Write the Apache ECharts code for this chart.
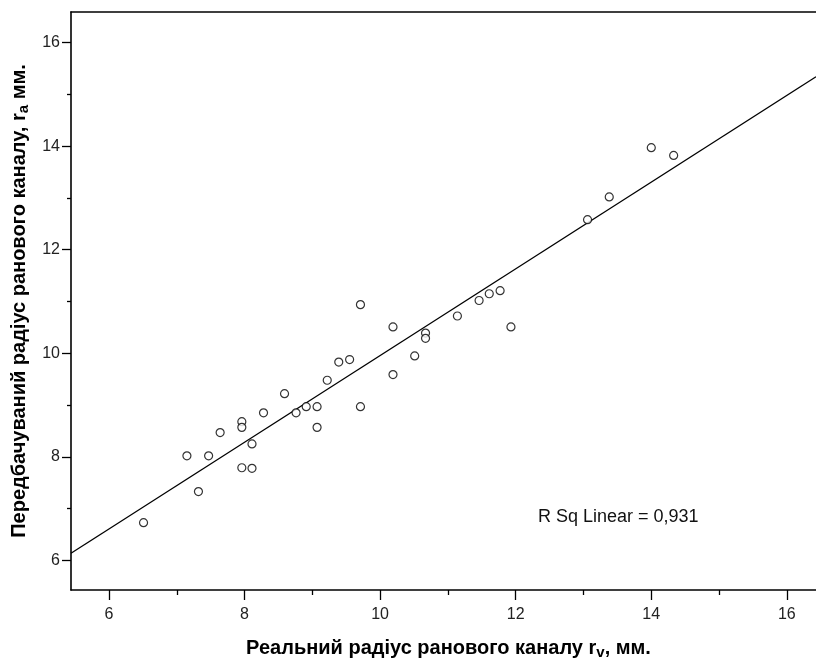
<!DOCTYPE html>
<html>
<head>
<meta charset="utf-8">
<script src="https://cdn.jsdelivr.net/npm/echarts@6/dist/echarts.min.js"></script>
<style>
  html, body { margin: 0; padding: 0; background: #fff; }
  #chart { width: 816px; height: 662px; }
</style>
</head>
<body>
<div id="chart"></div>
<script>
// Real wound channel radius r_v (mm)
const realRadius = [6.51, 7.15, 7.32, 7.47, 7.64, 7.96, 7.96, 7.96, 8.11, 8.11, 8.28, 8.59,
    8.76, 8.91, 9.07, 9.07, 9.22, 9.39, 9.55, 9.71, 9.71, 10.19, 10.19, 10.51, 10.67, 10.67,
    11.14, 11.46, 11.61, 11.77, 11.93, 13.06, 13.38, 14.00, 14.33];
// Predicted radius r_a (mm)
const predictedRadius = [6.73, 8.02, 7.33, 8.02, 8.47, 8.68, 8.57, 7.79, 8.25, 7.78, 8.85, 9.22,
    8.85, 8.97, 8.97, 8.57, 9.48, 9.83, 9.88, 10.94, 8.97, 10.51, 9.59, 9.95, 10.39, 10.29,
    10.72, 11.02, 11.15, 11.21, 10.51, 12.58, 13.02, 13.97, 13.82];

// fit line endpoints
const fitLineX = [5.44, 16.43];
const fitLineY = [6.14, 15.34];

const majorTicks = [6, 8, 10, 12, 14, 16];
const minorTicks = [7, 9, 11, 13, 15];
const rSqText = 'R Sq Linear = 0,931';

const font = '"Liberation Sans", Arial, sans-serif';
const xRange = { min: 5.44, max: 16.43 };
const yRange = { min: 5.43, max: 16.59 };

const chart = echarts.init(document.getElementById('chart'));

const axisLine = { show: true, lineStyle: { color: '#000', width: 1.6 } };
const labelStyle = { color: '#222', fontSize: 16, fontFamily: font };

const titleRich = {
    b: { fontFamily: font, fontSize: 20, fontWeight: 'bold', color: '#000' },
    sub: { fontFamily: font, fontSize: 15, fontWeight: 'bold', color: '#000', padding: [8, 0, 0, 0] }
};

var option = {
    backgroundColor: '#fff',
    animation: false,
    grid: { left: 71, right: 0, top: 12, bottom: 72, containLabel: false, outerBoundsMode: 'none' },
    xAxis: [
        {
            type: 'value', position: 'bottom', ...xRange,
            axisLine: axisLine,
            splitLine: { show: false },
            axisTick: { show: true, length: 10, customValues: majorTicks, lineStyle: { color: '#000', width: 1.3 } },
            axisLabel: { ...labelStyle, margin: 17, customValues: majorTicks },
            name: '{b|Реальний радіус ранового каналу r}{sub|v}{b|, мм.}',
            nameLocation: 'middle',
            nameGap: 47,
            nameTextStyle: { rich: titleRich, padding: [0, 0, 0, 10] }
        },
        {
            type: 'value', position: 'bottom', ...xRange,
            axisLine: { show: false },
            splitLine: { show: false },
            axisTick: { show: true, length: 5, customValues: minorTicks, lineStyle: { color: '#000', width: 1.3 } },
            axisLabel: { show: false }
        },
        {
            // top frame line
            type: 'value', position: 'top', ...xRange,
            axisLine: axisLine,
            splitLine: { show: false },
            axisTick: { show: false },
            axisLabel: { show: false }
        }
    ],
    yAxis: [
        {
            type: 'value', position: 'left', ...yRange,
            axisLine: axisLine,
            splitLine: { show: false },
            axisTick: { show: true, length: 9, customValues: majorTicks, lineStyle: { color: '#000', width: 1.3 } },
            axisLabel: { ...labelStyle, margin: 11, customValues: majorTicks },
            name: '{b|Передбачуваний радіус ранового каналу, r}{sub|a}{b| мм.}',
            nameLocation: 'middle',
            nameRotate: 90,
            nameGap: 31,
            nameTextStyle: { rich: titleRich }
        },
        {
            type: 'value', position: 'left', ...yRange,
            axisLine: { show: false },
            splitLine: { show: false },
            axisTick: { show: true, length: 4, customValues: minorTicks, lineStyle: { color: '#000', width: 1.3 } },
            axisLabel: { show: false }
        }
    ],
    series: [
        {
            type: 'line',
            data: fitLineX.map((x, i) => [x, fitLineY[i]]),
            symbol: 'none',
            lineStyle: { color: '#000', width: 1.3 },
            z: 2,
            silent: true
        },
        {
            type: 'scatter',
            data: realRadius.map((x, i) => [x, predictedRadius[i]]),
            symbol: 'circle',
            symbolSize: 8,
            itemStyle: { color: '#fff', borderColor: '#000', borderWidth: 1.2 },
            z: 3
        }
    ],
    graphic: [
        {
            type: 'text',
            left: 538,
            top: 508,
            style: { text: rSqText, font: '18px ' + font, fill: '#111' }
        }
    ]
};

option && chart.setOption(option);
</script>
</body>
</html>
